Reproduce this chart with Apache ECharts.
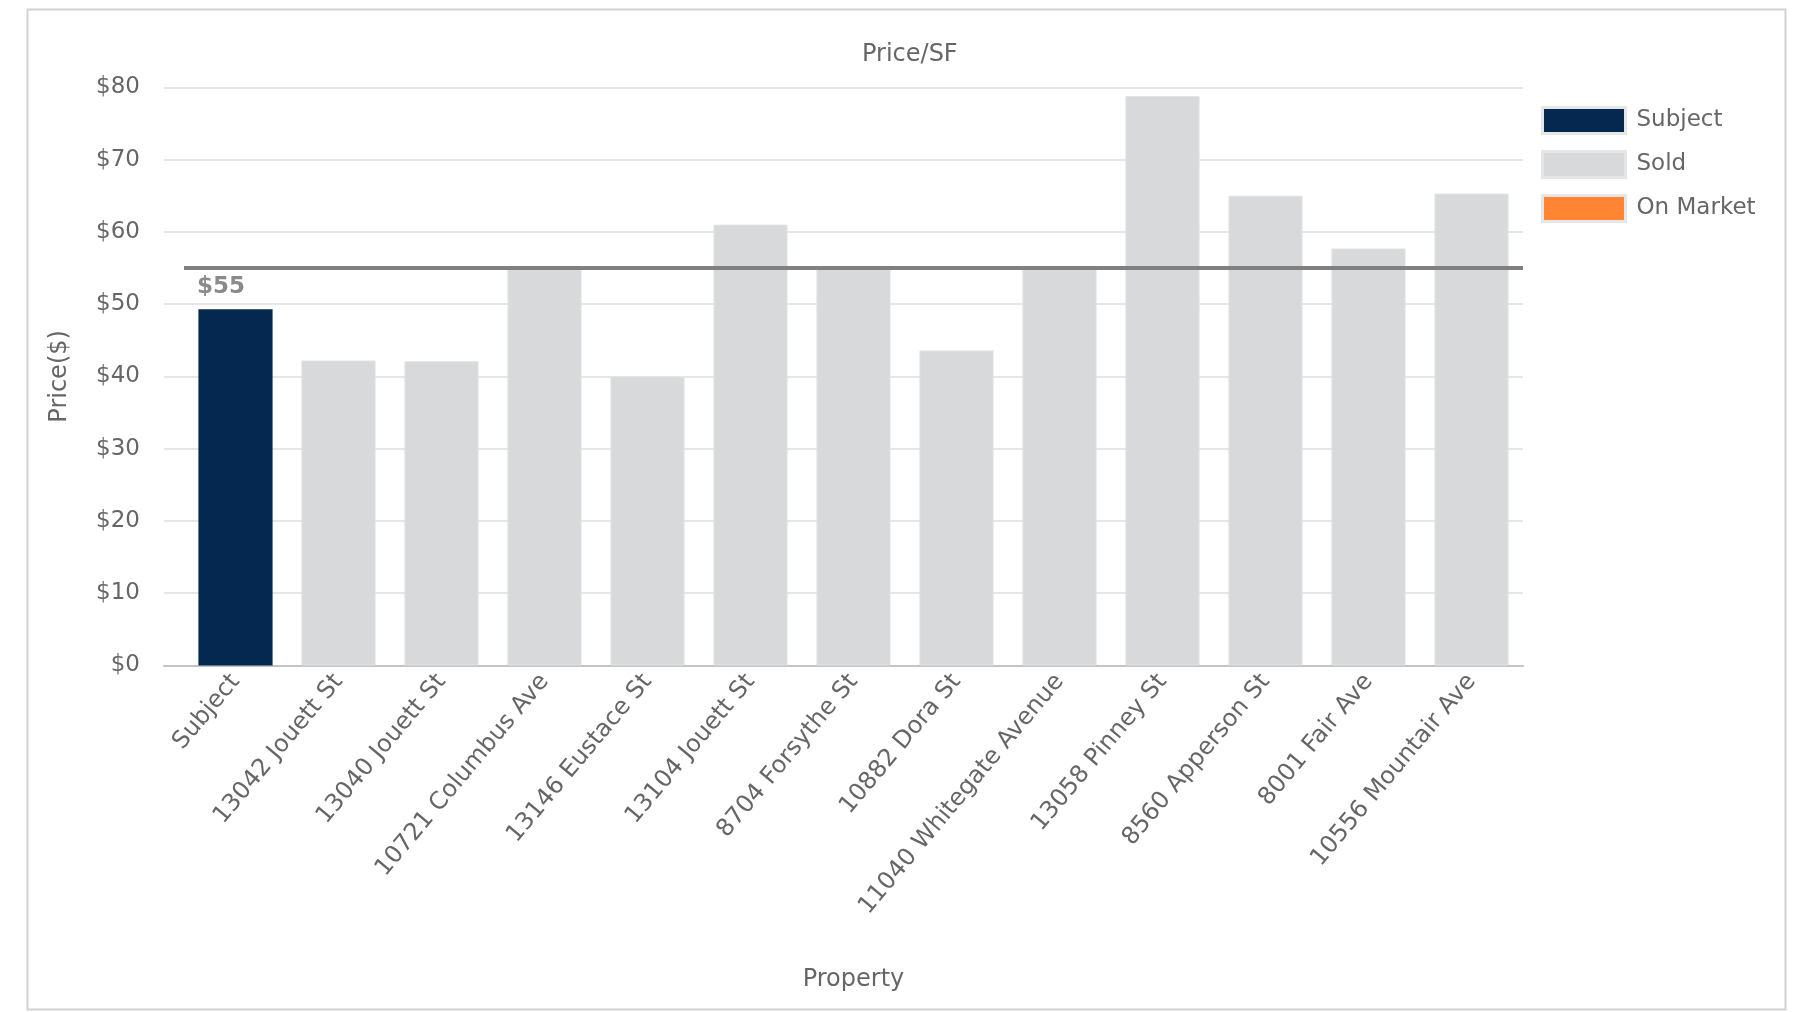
<!DOCTYPE html>
<html>
<head>
<meta charset="utf-8">
<title>Price/SF</title>
<script src="https://cdn.jsdelivr.net/npm/echarts@6/dist/echarts.min.js"></script>
<style>
  html, body { margin: 0; padding: 0; background: #ffffff; }
  #chart { width: 1796px; height: 1012px; }
</style>
</head>
<body>
<div id="chart"></div>
<script>
// Properties shown along the x axis
const properties = [
  'Subject', '13042 Jouett St', '13040 Jouett St', '10721 Columbus Ave',
  '13146 Eustace St', '13104 Jouett St', '8704 Forsythe St', '10882 Dora St',
  '11040 Whitegate Avenue', '13058 Pinney St', '8560 Apperson St',
  '8001 Fair Ave', '10556 Mountair Ave'
];
// Price per square foot for each property
const pricePerSF = [49.3, 42.2, 42.1, 54.9, 40.0, 61.0, 54.9, 43.6, 54.9, 78.8, 65.0, 57.7, 65.3];
// Listing status of each property
const status = ['Subject', 'Sold', 'Sold', 'Sold', 'Sold', 'Sold', 'Sold', 'Sold', 'Sold', 'Sold', 'Sold', 'Sold', 'Sold'];
// Legend groups and their colours
const groups = ['Subject', 'Sold', 'On Market'];
const groupColors = ['#04284f', '#d8d9da', '#ff8533'];
// Average price per SF of the comparables
const compAverage = 55;
// Value axis ticks
const yTicks = [0, 10, 20, 30, 40, 50, 60, 70, 80];

const FONT = '"DejaVu Sans", Verdana, sans-serif';
const TEXT = '#666666';

const plotTop = 87.3;
const plotBottom = 1012 - 665.5;
const plotRight = 1796 - 1523;

const series = groups.map((g, gi) => {
  const s = {
    name: g,
    type: 'bar',
    xAxisIndex: 1,
    yAxisIndex: 1,
    stack: 'price',
    barCategoryGap: '28%',
    itemStyle: { color: groupColors[gi] },
    data: pricePerSF.map((v, i) => (status[i] === g ? v : null))
  };
  if (g === 'Sold') {
    s.itemStyle.borderColor = '#e2e3e3';
    s.itemStyle.borderWidth = 1;
  }
  if (gi === 0) {
    s.markLine = {
      silent: true,
      symbol: ['none', 'none'],
      lineStyle: { color: '#808080', width: 4, type: 'solid' },
      label: {
        show: true,
        position: 'insideStartBottom',
        distance: [13, 8],
        formatter: () => '$' + compAverage,
        color: '#8a8a8a',
        fontFamily: FONT,
        fontWeight: 'bold',
        fontSize: 23
      },
      data: [{ yAxis: compAverage }]
    };
  }
  return s;
});

const chart = echarts.init(document.getElementById('chart'), null, { renderer: 'canvas' });

chart.setOption({
  animation: false,
  backgroundColor: '#ffffff',
  textStyle: { fontFamily: FONT },
  title: {
    text: 'Price/SF',
    left: 857,
    top: 38,
    textStyle: { color: TEXT, fontFamily: FONT, fontWeight: 'normal', fontSize: 24 }
  },
  legend: {
    orient: 'vertical',
    left: 1541,
    top: 106,
    padding: 0,
    icon: 'rect',
    itemWidth: 83,
    itemHeight: 26,
    itemGap: 15,
    data: groups,
    itemStyle: { borderColor: '#e6e6e6', borderWidth: 3 },
    textStyle: { color: TEXT, fontFamily: FONT, fontSize: 23, padding: [0, 0, 0, 6] }
  },
  grid: [
    { left: 164, right: plotRight, top: plotTop, bottom: plotBottom },
    { left: 184, right: plotRight, top: plotTop, bottom: plotBottom }
  ],
  xAxis: [
    {
      gridIndex: 0,
      type: 'value',
      min: 0,
      max: 1,
      axisLine: { show: true, lineStyle: { color: '#c4c4c4', width: 2 } },
      axisTick: { show: false },
      axisLabel: { show: false },
      splitLine: { show: false }
    },
    {
      gridIndex: 1,
      type: 'category',
      data: properties,
      name: 'Property',
      nameLocation: 'middle',
      nameGap: 302,
      nameTextStyle: { color: TEXT, fontFamily: FONT, fontSize: 24 },
      axisLine: { show: false },
      axisTick: { show: false },
      axisLabel: {
        rotate: 50,
        interval: 0,
        margin: 12,
        color: TEXT,
        fontFamily: FONT,
        fontSize: 24
      }
    }
  ],
  yAxis: [
    {
      gridIndex: 0,
      type: 'value',
      min: yTicks[0],
      max: yTicks[yTicks.length - 1],
      interval: yTicks[1] - yTicks[0],
      name: 'Price($)',
      nameLocation: 'middle',
      nameRotate: 90,
      nameGap: 92,
      nameTextStyle: { color: TEXT, fontFamily: FONT, fontSize: 24 },
      axisLine: { show: false },
      axisTick: { show: false },
      axisLabel: {
        margin: 24,
        color: TEXT,
        fontFamily: FONT,
        fontSize: 23,
        formatter: v => '$' + v
      },
      splitLine: { show: true, lineStyle: { color: '#e6e6e6', width: 2 } }
    },
    {
      gridIndex: 1,
      type: 'value',
      min: yTicks[0],
      max: yTicks[yTicks.length - 1],
      interval: yTicks[1] - yTicks[0],
      show: false,
      splitLine: { show: false }
    }
  ],
  graphic: [
    {
      type: 'rect',
      left: 25,
      top: 7,
      shape: { width: 1758, height: 1000 },
      style: { fill: 'none', stroke: '#d2d2d2', lineWidth: 2 },
      silent: true,
      z: -1
    }
  ],
  series: series
});
</script>
</body>
</html>
